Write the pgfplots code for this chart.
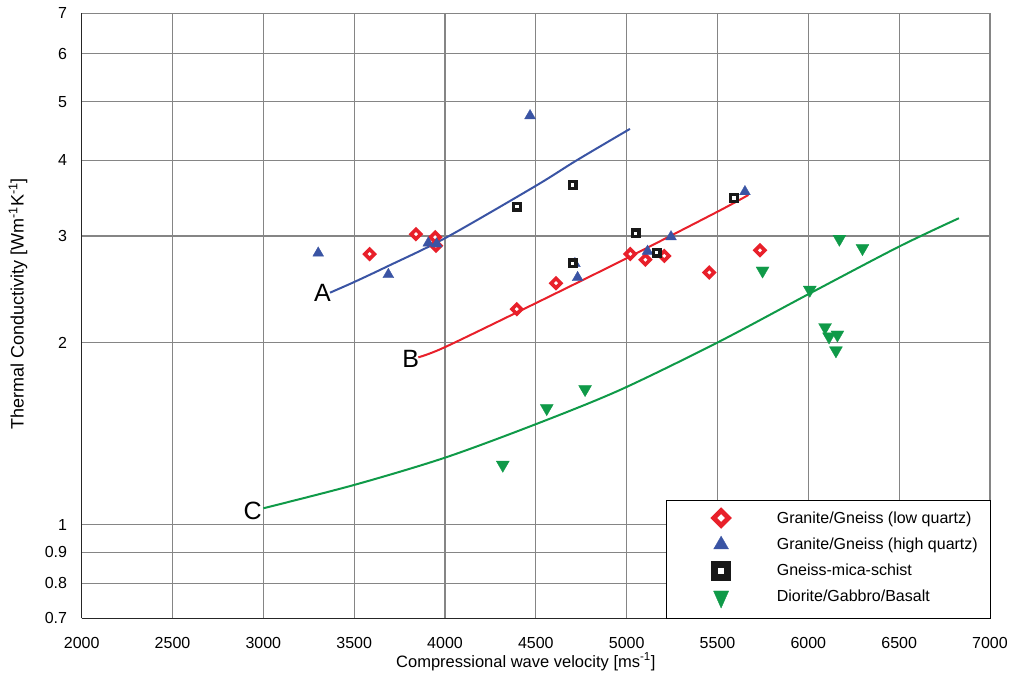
\documentclass[border=0pt]{standalone}
\usepackage{pgfplots}
\pgfplotsset{compat=1.18}
\usepackage{fontspec}
\setmainfont{Liberation Sans}

\definecolor{ptred}{HTML}{E8202A}
\definecolor{ptblue}{HTML}{3A54A4}
\definecolor{ptgreen}{HTML}{0F9A48}
\definecolor{gridgray}{HTML}{858585}

\pgfplotsset{
  mark legend/.style={legend image code/.code={%
      \path[draw=none, fill=none] (0pt,-8pt) rectangle (98.7pt,8pt);
      \draw[##1] plot coordinates {(43pt,0pt)};}},
}

\begin{document}
\begin{tikzpicture}
\useasboundingbox (-81.7pt,-54.7pt) rectangle (928.3pt,618.3pt);
\begin{axis}[
  at={(0pt,0pt)}, anchor=south west,
  scale only axis, width=908.3pt, height=605pt,
  xmin=2000, xmax=7000, ymin=0.7, ymax=7,
  ymode=log,
  xtick={2000,2500,3000,3500,4000,4500,5000,5500,6000,6500,7000},
  xticklabels={2000,2500,3000,3500,4000,4500,5000,5500,6000,6500,7000},
  ytick={0.7,0.8,0.9,1,2,3,4,5,6,7},
  yticklabels={0.7,0.8,0.9,1,2,3,4,5,6,7},
  minor tick length=0pt, major tick length=0pt,
  grid=major,
  grid style={gridgray, line width=1.2pt},
  axis lines*=left,
  axis line style={black!85, line width=1.6pt},
  tick label style={font=\fontsize{16}{19}\selectfont},
  yticklabel style={inner sep=0pt, xshift=-14.5pt},
  xticklabel style={inner sep=0pt, yshift=-18.7pt},
  xlabel={Compressional wave velocity [ms\textsuperscript{-1}]},
  ylabel={Thermal Conductivity [Wm\textsuperscript{-1}K\textsuperscript{-1}]},
  xlabel style={font=\fontsize{16.5}{19}\selectfont,
    at={(axis description cs:0.489,-0.0717)}, anchor=center},
  ylabel style={font=\fontsize{18}{21}\selectfont,
    at={(axis description cs:-0.0701,0.5195)}, anchor=center},
  legend style={at={(axis description cs:1,0)}, anchor=south east,
    draw=black, fill=white, inner xsep=12pt, inner ysep=10pt,
    row sep=10pt, nodes={inner sep=0pt},
    font=\fontsize{16}{19}\selectfont},
  legend cell align=left,
]

% fitted trends
\addplot[ptblue, line width=2pt, smooth, forget plot] coordinates {
  (3367,2.417) (3505,2.521) (3688,2.676) (4000,2.974) (4499,3.629) (4725,4.0) (5018,4.508)};
\addplot[ptred, line width=2pt, smooth, forget plot] coordinates {
  (3853,1.890) (4000,1.965) (4499,2.322) (5000,2.756) (5501,3.291) (5670,3.506)};
\addplot[ptgreen, line width=2pt, smooth, forget plot] coordinates {
  (3000,1.064) (3501,1.163) (4000,1.290) (4499,1.465) (4963,1.669) (5499,1.999)
  (6000,2.403) (6499,2.880) (6829,3.209)};

% Granite/Gneiss (low quartz)
\addplot[only marks, mark=square*, mark size=3.4pt,
  mark options={rotate=45, draw=ptred, fill=white, line width=3.6pt}, forget plot]
  coordinates {
  (3585,2.80) (3840,3.02) (3946,2.985) (3950,2.89) (4395,2.27) (4611,2.506)
  (5020,2.80) (5103,2.74) (5207,2.78) (5455,2.61) (5734,2.84)};

% Granite/Gneiss (high quartz)
\addplot[only marks, mark=triangle*, mark size=6.3pt,
  mark options={draw=ptblue, fill=ptblue, line width=0.3pt}, forget plot]
  coordinates {
  (3302,2.81) (3688,2.59) (3908,2.92) (3954,2.91) (4468,4.74) (4715,2.70)
  (4730,2.56) (5115,2.83) (5244,2.99) (5651,3.55)};

% Gneiss-mica-schist
\addplot[only marks, mark=square*, mark size=3.3pt,
  mark options={draw=black!90, fill=white, line width=3.4pt}, forget plot]
  coordinates {
  (4396,3.354) (4703,3.643) (4703,2.704) (5050,3.03) (5165,2.815) (5591,3.467)};

% Diorite/Gabbro/Basalt
\addplot[only marks, mark=triangle*, mark size=7.5pt,
  mark options={rotate=180, draw=ptgreen, fill=ptgreen, line width=0.3pt}, forget plot]
  coordinates {
  (4318,1.255) (4560,1.557) (4771,1.674) (5748,2.628) (6008,2.443) (6171,2.966)
  (6298,2.863) (6092,2.119) (6114,2.045) (6160,2.06) (6152,1.94)};

% legend entries
\addlegendimage{mark legend, only marks, mark=square*, mark size=5.2pt,
  mark options={rotate=45, draw=ptred, fill=white, line width=4.8pt}}
\addlegendentry{Granite/Gneiss (low quartz)}
\addlegendimage{mark legend, only marks, mark=triangle*, mark size=8.6pt,
  mark options={draw=ptblue, fill=ptblue, line width=0.3pt}}
\addlegendentry{Granite/Gneiss (high quartz)}
\addlegendimage{mark legend, only marks, mark=square*, mark size=6.5pt,
  mark options={draw=black!90, fill=white, line width=6.8pt}}
\addlegendentry{Gneiss-mica-schist}
\addlegendimage{mark legend, only marks, mark=triangle*, mark size=8.8pt,
  mark options={rotate=180, yscale=1.3, draw=ptgreen, fill=ptgreen, line width=0.3pt}}
\addlegendentry{Diorite/Gabbro/Basalt}

% curve labels
\node[anchor=east, inner sep=0pt, font=\fontsize{25}{30}\selectfont, xshift=1pt, yshift=-0.6pt]
  at (axis cs:3367,2.417) {A};
\node[anchor=east, inner sep=0pt, font=\fontsize{25}{30}\selectfont, xshift=1pt, yshift=-1.7pt]
  at (axis cs:3853,1.890) {B};
\node[anchor=east, inner sep=0pt, font=\fontsize{25}{30}\selectfont, xshift=-1.6pt, yshift=-2.7pt]
  at (axis cs:3000,1.064) {C};
\end{axis}
\end{tikzpicture}
\end{document}
